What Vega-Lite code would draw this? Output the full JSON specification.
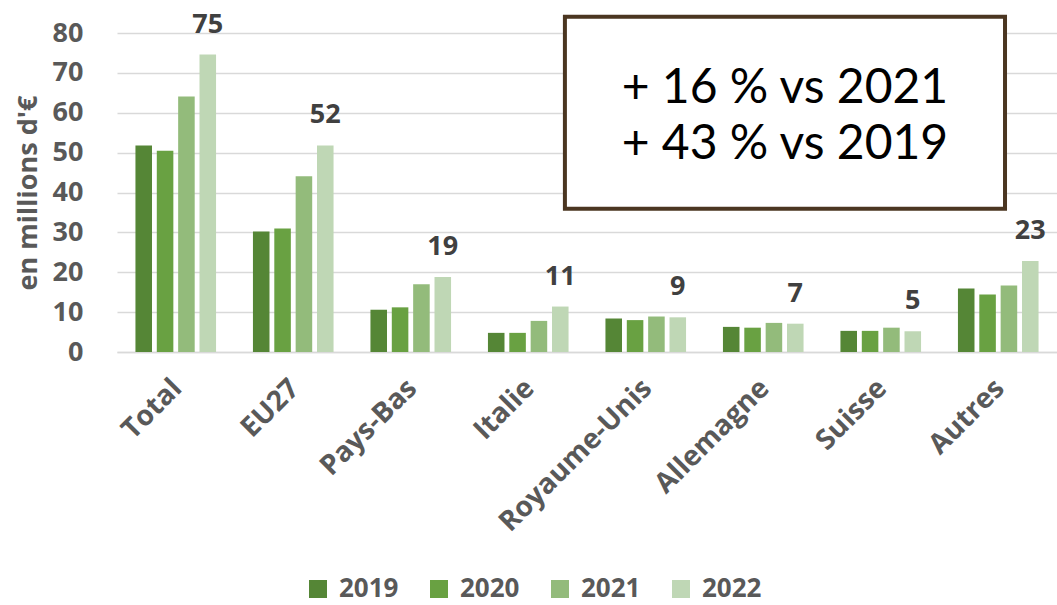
{
  "$schema": "https://vega.github.io/schema/vega-lite/v6.json",
  "width": 940,
  "height": 319,
  "autosize": {"type": "none"},
  "padding": {"left": 117, "top": 33, "right": 0, "bottom": 253},
  "background": "white",
  "config": {
    "view": {"stroke": null},
    "font": "Open Sans",
    "axisY": {
      "titleFontSize": 27,
      "titleFontWeight": "bold",
      "titleColor": "#595959",
      "titlePadding": 10,
      "labelFontSize": 27,
      "labelFontWeight": "bold",
      "labelColor": "#595959",
      "labelPadding": 34,
      "ticks": false,
      "tickSize": 0,
      "domain": false,
      "grid": true,
      "gridColor": "#d9d9d9",
      "gridWidth": 1.5
    }
  },
  "datasets": {
    "bars": [
      {"pays": "Total", "annee": "2019", "valeur": 51.8},
      {"pays": "Total", "annee": "2020", "valeur": 50.5},
      {"pays": "Total", "annee": "2021", "valeur": 64.1},
      {"pays": "Total", "annee": "2022", "valeur": 74.6},
      {"pays": "EU27", "annee": "2019", "valeur": 30.2},
      {"pays": "EU27", "annee": "2020", "valeur": 31.0},
      {"pays": "EU27", "annee": "2021", "valeur": 44.1},
      {"pays": "EU27", "annee": "2022", "valeur": 51.8},
      {"pays": "Pays-Bas", "annee": "2019", "valeur": 10.6},
      {"pays": "Pays-Bas", "annee": "2020", "valeur": 11.2},
      {"pays": "Pays-Bas", "annee": "2021", "valeur": 17.0},
      {"pays": "Pays-Bas", "annee": "2022", "valeur": 18.8},
      {"pays": "Italie", "annee": "2019", "valeur": 4.8},
      {"pays": "Italie", "annee": "2020", "valeur": 4.8},
      {"pays": "Italie", "annee": "2021", "valeur": 7.8},
      {"pays": "Italie", "annee": "2022", "valeur": 11.4},
      {"pays": "Royaume-Unis", "annee": "2019", "valeur": 8.4},
      {"pays": "Royaume-Unis", "annee": "2020", "valeur": 8.0},
      {"pays": "Royaume-Unis", "annee": "2021", "valeur": 8.9},
      {"pays": "Royaume-Unis", "annee": "2022", "valeur": 8.7},
      {"pays": "Allemagne", "annee": "2019", "valeur": 6.3},
      {"pays": "Allemagne", "annee": "2020", "valeur": 6.1},
      {"pays": "Allemagne", "annee": "2021", "valeur": 7.3},
      {"pays": "Allemagne", "annee": "2022", "valeur": 7.1},
      {"pays": "Suisse", "annee": "2019", "valeur": 5.3},
      {"pays": "Suisse", "annee": "2020", "valeur": 5.3},
      {"pays": "Suisse", "annee": "2021", "valeur": 6.1},
      {"pays": "Suisse", "annee": "2022", "valeur": 5.2},
      {"pays": "Autres", "annee": "2019", "valeur": 15.9},
      {"pays": "Autres", "annee": "2020", "valeur": 14.4},
      {"pays": "Autres", "annee": "2021", "valeur": 16.7},
      {"pays": "Autres", "annee": "2022", "valeur": 22.8}
    ],
    "boite": [
      {"bx1": 0.4765, "bx2": 0.9447, "by1": 35.9, "by2": 84.1}
    ],
    "texte": [
      {"tx": 0.7106, "ty": 65.9, "ligne": "+ 16 % vs 2021"},
      {"tx": 0.7106, "ty": 51.8, "ligne": "+ 43 % vs 2019"}
    ]
  },
  "layer": [
    {
      "layer": [
        {
          "data": {"name": "bars"},
          "mark": {"type": "bar"},
          "encoding": {
            "x": {
              "field": "pays", "type": "nominal", "sort": null,
              "scale": {"paddingInner": 0.314, "paddingOuter": 0.157},
              "axis": {
                "title": null,
                "labelAngle": -45,
                "labelAlign": "right",
                "labelBaseline": "top",
                "labelFontSize": 28,
                "labelFontWeight": "bold",
                "labelColor": "#595959",
                "labelPadding": 22,
                "labelOffset": -8,
                "labelLimit": 0,
                "labelOverlap": false,
                "ticks": false,
                "tickSize": 0,
                "domain": true,
                "domainColor": "#d9d9d9",
                "domainWidth": 1.5,
                "grid": false
              }
            },
            "xOffset": {
              "field": "annee", "type": "nominal",
              "scale": {"paddingInner": 0.225, "paddingOuter": 0}
            },
            "y": {
              "field": "valeur", "type": "quantitative",
              "scale": {"domain": [0, 80], "nice": false},
              "axis": {"title": "en millions d'€", "values": [0, 10, 20, 30, 40, 50, 60, 70, 80]}
            },
            "color": {
              "field": "annee", "type": "nominal",
              "scale": {
                "domain": ["2019", "2020", "2021", "2022"],
                "range": ["#558636", "#69a142", "#93bb7b", "#bfd7b5"]
              },
              "legend": {
                "title": null,
                "orient": "none",
                "direction": "horizontal",
                "legendX": 188,
                "legendY": 543,
                "symbolType": "square",
                "symbolSize": 324,
                "symbolStrokeWidth": 0,
                "labelFontSize": 26,
                "labelFontWeight": "bold",
                "labelColor": "#595959",
                "labelOffset": 8,
                "columnPadding": 27
              }
            }
          }
        },
        {
          "data": {"name": "bars"},
          "transform": [{"filter": "datum.annee === '2022'"}],
          "mark": {"type": "text", "baseline": "alphabetic", "align": "center", "dy": -22, "fontSize": 27, "fontWeight": "bold", "color": "#404040"},
          "encoding": {
            "x": {"field": "pays", "type": "nominal", "sort": null},
            "xOffset": {"field": "annee", "type": "nominal"},
            "y": {"field": "valeur", "type": "quantitative", "axis": {"title": "en millions d'€", "values": [0, 10, 20, 30, 40, 50, 60, 70, 80]}},
            "text": {"field": "valeur", "type": "quantitative", "format": ".0f"}
          }
        }
      ]
    },
    {
      "layer": [
        {
          "data": {"name": "boite"},
          "mark": {"type": "rect", "fill": "white", "stroke": "#4b3621", "strokeWidth": 4},
          "encoding": {
            "x": {"field": "bx1", "type": "quantitative", "scale": {"domain": [0, 1], "nice": false, "zero": false}, "axis": null},
            "x2": {"field": "bx2"},
            "y": {"field": "by1", "type": "quantitative", "axis": {"title": "en millions d'€", "values": [0, 10, 20, 30, 40, 50, 60, 70, 80]}},
            "y2": {"field": "by2"}
          }
        },
        {
          "data": {"name": "texte"},
          "mark": {"type": "text", "align": "center", "baseline": "middle", "font": "Lato", "fontSize": 48, "color": "#000000"},
          "encoding": {
            "x": {"field": "tx", "type": "quantitative", "axis": null},
            "y": {"field": "ty", "type": "quantitative", "axis": {"title": "en millions d'€", "values": [0, 10, 20, 30, 40, 50, 60, 70, 80]}},
            "text": {"field": "ligne", "type": "nominal"}
          }
        }
      ]
    }
  ],
  "resolve": {"scale": {"x": "independent"}, "axis": {"x": "independent"}}
}
